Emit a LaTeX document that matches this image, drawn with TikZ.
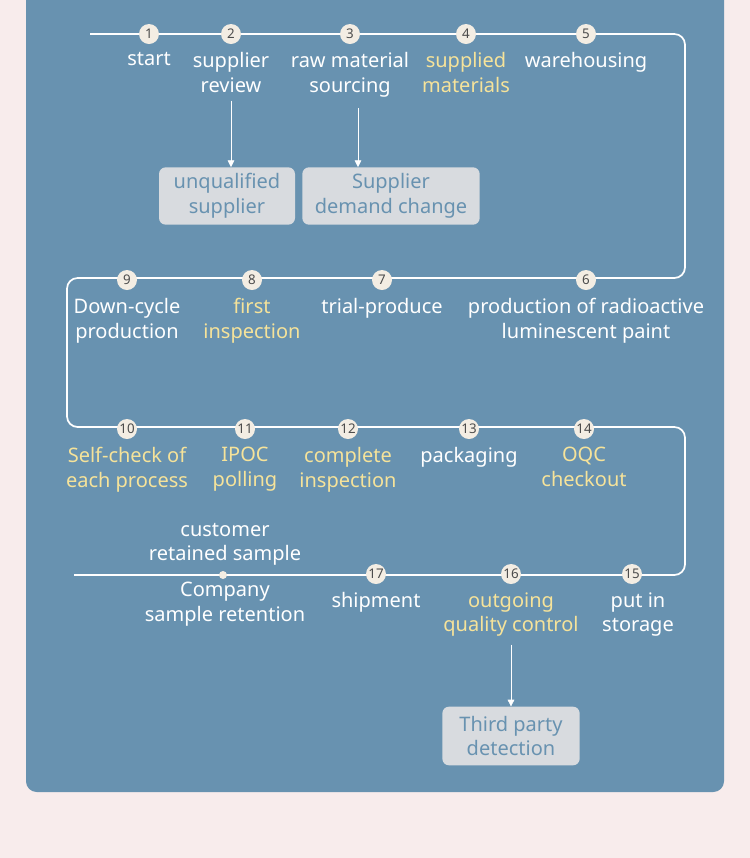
\documentclass[tikz,border=0pt]{standalone}
\usepackage{fontspec}
\setmainfont{Noto Sans}
\usetikzlibrary{positioning,arrows.meta}
\definecolor{panel}{HTML}{6892B0}
\definecolor{pagebg}{HTML}{F8ECEC}
\definecolor{stepfill}{HTML}{F3EDE3}
\definecolor{hilite}{HTML}{F6E39A}
\definecolor{boxfill}{HTML}{D8DBDF}
\tikzset{
	stepnode/.style={circle,fill=stepfill,inner sep=0pt,minimum size=15pt,font=\fontsize{10}{10}\selectfont,text=black!70},
	lbl/.style={text=white,align=center,font=\fontsize{15}{18.5}\selectfont,inner sep=0pt},
	hl/.style={lbl,text=hilite},
	gbox/.style={rounded corners=5pt,fill=boxfill,text=panel,align=center,font=\fontsize{15}{18.5}\selectfont,inner sep=0pt},
}
\begin{document}
\begin{tikzpicture}[x=0.75pt,y=-0.75pt]
\useasboundingbox (0,0) rectangle (750,858);
\clip (0,0) rectangle (750,858);
\fill[pagebg] (0,0) rectangle (750,858);
\fill[panel,rounded corners=8pt] (26,-20) rectangle (724,792);
% flow line
\coordinate (s) at (90,34);
\coordinate (e) at (74,575);
\draw[white,line width=1.3pt,rounded corners=8pt] (s) -- (685,34) -- (685,278) -- (67,278) -- (67,427) -- (685,427) -- (685,575) -- (e);
% steps
\node[stepnode] (n1) at (149,34) {1};
\node[stepnode] (n2) at (231,34) {2};
\node[stepnode] (n3) at (350,34) {3};
\node[stepnode] (n4) at (466,34) {4};
\node[stepnode] (n5) at (586,34) {5};
\node[stepnode] (n9) at (127,280) {9};
\node[stepnode] (n8) at (252,280) {8};
\node[stepnode] (n7) at (382,280) {7};
\node[stepnode] (n6) at (586,280) {6};
\node[stepnode] (n10) at (127,429) {10};
\node[stepnode] (n11) at (245,429) {11};
\node[stepnode] (n12) at (348,429) {12};
\node[stepnode] (n13) at (469,429) {13};
\node[stepnode] (n14) at (584,429) {14};
\node[stepnode] (n17) at (376,574) {17};
\node[stepnode] (n16) at (511,574) {16};
\node[stepnode] (n15) at (632,574) {15};
\node[circle,fill=stepfill,inner sep=0pt,minimum size=6pt] (dot) at (223,575) {};
% labels
\node[lbl,anchor=north] (t1) at (149,52) {start};
\node[lbl,anchor=north] (t2) at (231,52) {supplier\\review};
\node[lbl,anchor=north] (t3) at (350,52) {raw material\\sourcing};
\node[hl,anchor=north] (t4) at (466,52) {supplied\\materials};
\node[lbl,anchor=north] (t5) at (586,52) {warehousing};
\node[lbl,anchor=north] (t9) at (127,298) {Down-cycle\\production};
\node[hl,anchor=north] (t8) at (252,298) {first\\inspection};
\node[lbl,anchor=north] (t7) at (382,298) {trial-produce};
\node[lbl,anchor=north] (t6) at (586,298) {production of radioactive\\luminescent paint};
\node[hl,anchor=north] (t10) at (127,447) {Self-check of\\each process};
\node[hl,anchor=north] (t11) at (245,447) {IPOC\\polling};
\node[hl,anchor=north] (t12) at (348,447) {complete\\inspection};
\node[lbl,anchor=north] (t13) at (469,447) {packaging};
\node[hl,anchor=north] (t14) at (584,447) {OQC\\checkout};
\node[lbl,anchor=south] (tc) at (225,566) {customer\\retained sample};
\node[lbl,anchor=north] (tk) at (225,582) {Company\\sample retention};
\node[lbl,anchor=north] (t17) at (376,592) {shipment};
\node[hl,anchor=north] (t16) at (511,592) {outgoing\\quality control};
\node[lbl,anchor=north] (t15) at (638,592) {put in\\storage};
% side boxes
\node[gbox,minimum width=102pt,minimum height=43pt] (b1) at (227,196) {unqualified\\supplier};
\node[gbox,minimum width=133pt,minimum height=43pt] (b2) at (391,196) {Supplier\\demand change};
\node[gbox,minimum width=103pt,minimum height=44pt] (b3) at (511,736) {Third party\\detection};
\draw[white,-{Triangle[width=5pt,length=5pt]}] ([yshift=-6pt]t2.south) -- (b1.north -| t2.south);
\draw[white,-{Triangle[width=5pt,length=5pt]}] (358,108) -- (b2.north -| 358,0);
\draw[white,-{Triangle[width=5pt,length=5pt]}] ([yshift=-6pt]t16.south) -- (b3.north);
\end{tikzpicture}
\end{document}
